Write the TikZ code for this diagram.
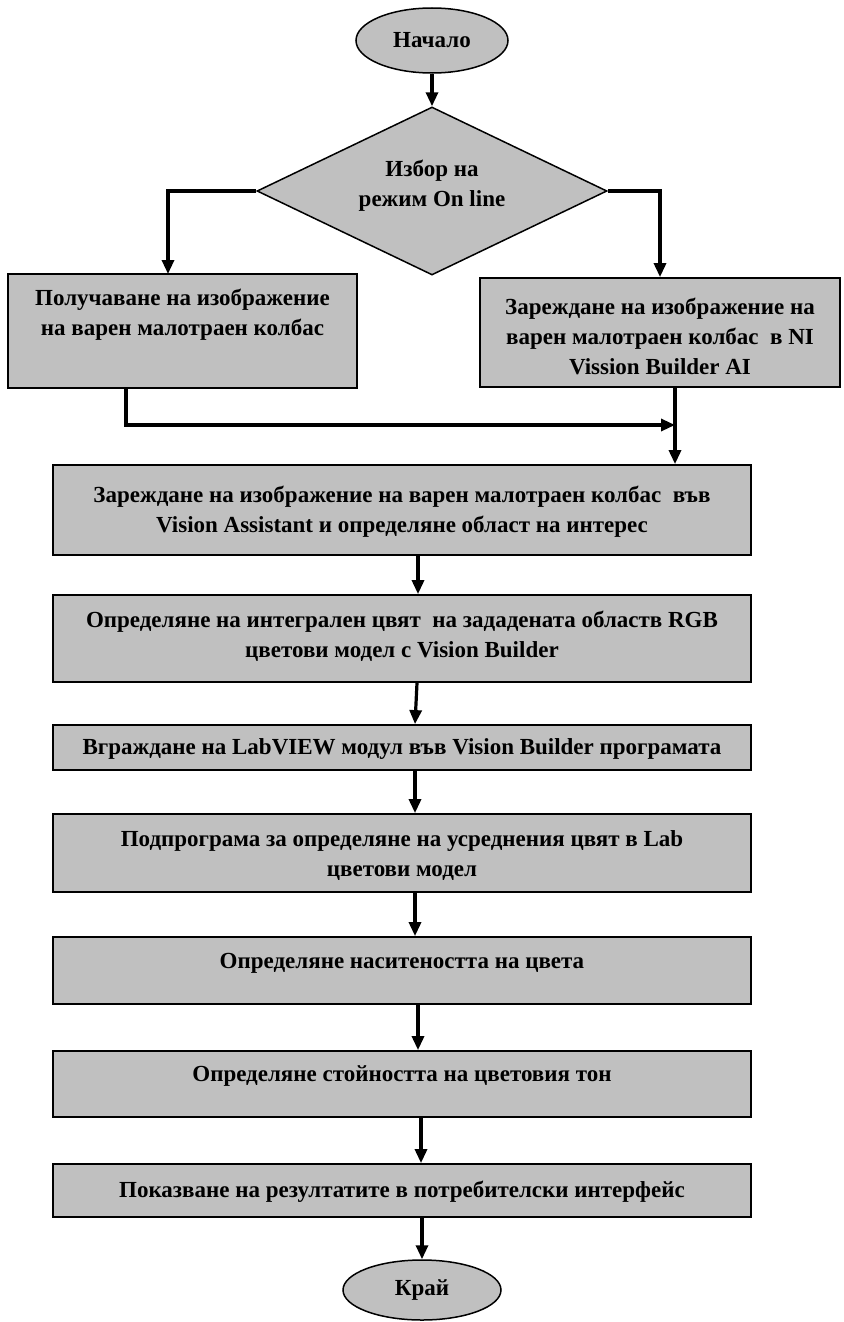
\documentclass[tikz,border=0pt]{standalone}
\usepackage{fontspec}
\setmainfont{Liberation Serif}
\usetikzlibrary{shapes.geometric,arrows.meta}
\definecolor{boxgray}{HTML}{C0C0C0}
\begin{document}
\begin{tikzpicture}[x=1pt,y=-1pt,
  box/.style={draw=black,line width=1.8pt,fill=boxgray,rectangle,inner sep=0pt},
  txt/.style={font=\fontsize{23}{30}\selectfont\bfseries,align=center,inner sep=0pt},
  term/.style={ellipse,draw=black,line width=1.5pt,fill=boxgray,inner sep=0pt,font=\fontsize{23}{30}\selectfont\bfseries},
  dia/.style={diamond,draw=black,line width=1.5pt,fill=boxgray,inner sep=0pt},
  arr/.style={line width=3.2pt,-{Triangle[length=14pt,width=12pt]}},
  ln/.style={line width=3.2pt}]
\useasboundingbox (0,0) rectangle (843,1322);

% terminals and decision
\node[term,minimum width=152pt,minimum height=65pt] (start) at (432,40.5) {Начало};
\node[dia,minimum width=350pt,minimum height=168pt] (dec) at (432,191) {};
\node[txt] (tdec) at (432,186) {Избор на\\режим On line};

% boxes
\node[box,minimum width=349pt,minimum height=114pt] (b1) at (182.5,331) {};
\node[box,minimum width=360pt,minimum height=109pt] (b2) at (660,332.5) {};
\node[box,minimum width=698pt,minimum height=90pt] (b3) at (402,510) {};
\node[box,minimum width=698pt,minimum height=87pt] (b4) at (402,638.5) {};
\node[box,minimum width=698pt,minimum height=45pt] (b5) at (402,747.5) {};
\node[box,minimum width=698pt,minimum height=78pt] (b6) at (402,853) {};
\node[box,minimum width=698pt,minimum height=67pt] (b7) at (402,970.5) {};
\node[box,minimum width=698pt,minimum height=66pt] (b8) at (402,1084) {};
\node[box,minimum width=698pt,minimum height=53pt] (b9) at (402,1190.5) {};
\node[term,minimum width=158pt,minimum height=60pt] (end) at (422,1290) {Край};

% texts
\node[txt] (t1) at (182.5,315) {Получаване на изображение\\на варен малотраен колбас};
\node[txt] (t2) at (660,336) {Зареждане на изображение на\\варен малотраен колбас\ \ в NI\\Vission Builder AI};
\node[txt] (t3) at (402,512) {Зареждане на изображение на варен малотраен колбас\ \ във\\Vision Assistant и определяне област на интерес};
\node[txt] (t4) at (402,636) {Определяне на интегрален цвят\ \ на зададената областв RGB\\цветови модел с Vision Builder};
\node[txt] (t5) at (402,749) {Вграждане на LabVIEW модул във Vision Builder програмата};
\node[txt] (t6) at (402,856) {Подпрограма за определяне на усреднения цвят в Lab\\цветови модел};
\node[txt] (t7) at (402,963) {Определяне наситеността на цвета};
\node[txt] (t8) at (402,1076) {Определяне стойността на цветовия тон};
\node[txt] (t9) at (402,1192) {Показване на резултатите в потребителски интерфейс};

% connectors
\coordinate (c1) at (168,274);
\coordinate (j) at (675,425);
\draw[arr] (start.south) -- (dec.north);
\draw[arr] (dec.west) -| (c1);
\draw[arr] (dec.east) -| (b2.north);
\draw[arr] ([xshift=-56.5pt]b1.south) |- (j);
\draw[arr] ([xshift=15pt]b2.south) -- (b3.north -| j);
\draw[arr] ([xshift=16pt]b3.south) -- ([xshift=16pt]b4.north);
\draw[arr] ([xshift=15pt]b4.south) -- ([xshift=13pt]b5.north);
\draw[arr] ([xshift=13pt]b5.south) -- ([xshift=13pt]b6.north);
\draw[arr] ([xshift=13pt]b6.south) -- ([xshift=13pt]b7.north);
\draw[arr] ([xshift=16pt]b7.south) -- ([xshift=16pt]b8.north);
\draw[arr] ([xshift=19pt]b8.south) -- ([xshift=19pt]b9.north);
\draw[arr] (b9.south -| end) -- (end.north);
\end{tikzpicture}
\end{document}
